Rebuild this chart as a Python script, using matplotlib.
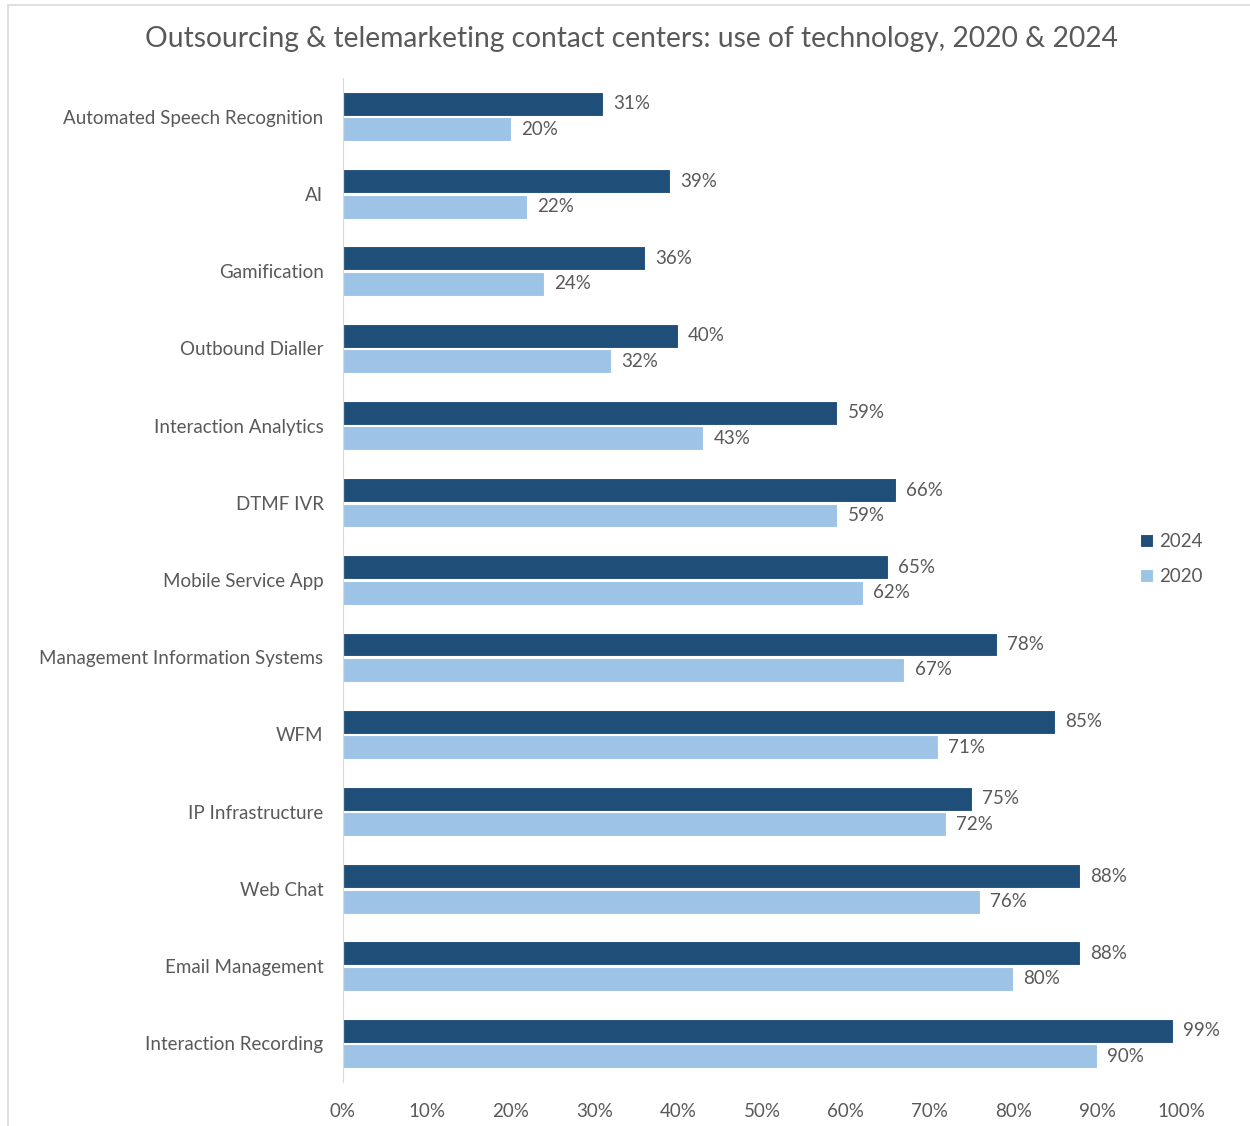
import matplotlib.pyplot as plt
import numpy as np
from matplotlib.patches import Rectangle

# data (top to bottom)
categories = ["Automated Speech Recognition", "AI", "Gamification", "Outbound Dialler",
              "Interaction Analytics", "DTMF IVR", "Mobile Service App",
              "Management Information Systems", "WFM", "IP Infrastructure",
              "Web Chat", "Email Management", "Interaction Recording"]
vals_2024 = [31, 39, 36, 40, 59, 66, 65, 78, 85, 75, 88, 88, 99]
vals_2020 = [20, 22, 24, 32, 43, 59, 62, 67, 71, 72, 76, 80, 90]
ticks = [0, 10, 20, 30, 40, 50, 60, 70, 80, 90, 100]

c24 = "#1F4E79"
c20 = "#9DC3E6"
grey = "#595959"
plt.rcParams['font.family'] = ['Lato', 'DejaVu Sans']

fig = plt.figure(figsize=(12.5, 11.26), dpi=100)
# chart border like the excel chart area
fig.patches.append(Rectangle((8/1250, -0.01), 1.05, 1 - 5/1126 + 0.01, transform=fig.transFigure,
                             fill=False, edgecolor="#D9D9D9", lw=1.2))
ax = fig.add_axes([343/1250, 1 - 1082/1126, 838/1250, (1082-78)/1126])

y = np.arange(len(categories))
h = 0.31
ax.barh(y - h/2 - 0.01, vals_2024, height=h, color=c24, edgecolor="white", lw=0.8, label="2024")
ax.barh(y + h/2 + 0.01, vals_2020, height=h, color=c20, edgecolor="white", lw=0.8, label="2020")

for i in range(len(categories)):
    ax.text(vals_2024[i] + 1.2, y[i] - h/2 - 0.01, f"{vals_2024[i]}%", va="center", ha="left",
            fontsize=13.5, color=grey)
    ax.text(vals_2020[i] + 1.2, y[i] + h/2 + 0.01, f"{vals_2020[i]}%", va="center", ha="left",
            fontsize=13.5, color=grey)

ax.set_ylim(len(categories) - 0.5, -0.5)
ax.set_xlim(0, 100)
ax.set_yticks(y)
ax.set_yticklabels(categories, fontsize=13.5, color=grey)
ax.set_xticks(ticks)
ax.set_xticklabels([f"{t}%" for t in ticks], fontsize=13.5, color=grey)
ax.tick_params(axis="both", length=0)
ax.tick_params(axis="y", pad=14)
ax.tick_params(axis="x", pad=15)
for s in ["top", "right", "bottom"]:
    ax.spines[s].set_visible(False)
ax.spines["left"].set_color("#D9D9D9")

fig.text(0.505, 1 - 39/1126, "Outsourcing & telemarketing contact centers: use of technology, 2020 & 2024",
         ha="center", va="center", fontsize=20.3, color=grey)

fig.legend(loc="center left", bbox_to_anchor=(1123/1250, 1 - 559/1126), frameon=False,
           fontsize=13.5, labelcolor=grey, handlelength=0.7, handleheight=0.7,
           handletextpad=0.3, labelspacing=0.95)

fig.savefig("out.png", dpi=100)
